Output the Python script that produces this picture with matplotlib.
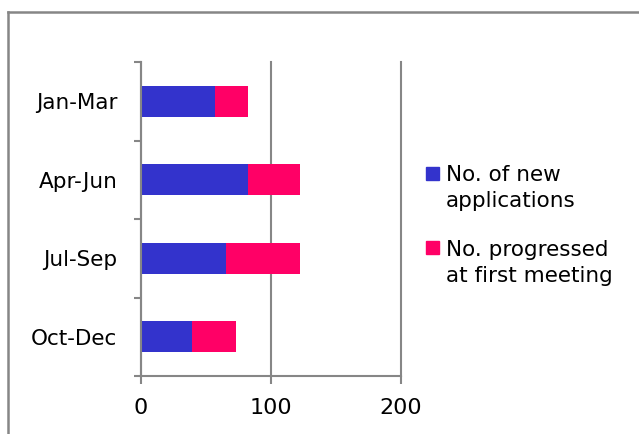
import matplotlib
matplotlib.use('Agg')
import matplotlib.pyplot as plt
from matplotlib.patches import Rectangle
from matplotlib.lines import Line2D
from matplotlib.ticker import FixedLocator

plt.rcParams['font.family'] = ['DejaVu Sans']

quarters = ["Jan-Mar", "Apr-Jun", "Jul-Sep", "Oct-Dec"]
new_apps = [57, 82, 65, 39]
progressed = [25, 40, 57, 34]
series_labels = ["No. of new\napplications", "No. progressed\nat first meeting"]
x_ticks = [0, 100, 200]

blue = '#3333CC'
pink = '#FF0066'
grey = '#868686'

W, H = 639, 434
fig = plt.figure(figsize=(W / 100, H / 100), dpi=100)

# outer chart frame (cut off at right and bottom like the original)
fig.add_artist(Line2D([8 / W, 8 / W], [-0.1, (H - 12) / H], color=grey, lw=1.8))
fig.add_artist(Line2D([8 / W, 1.1], [(H - 12) / H, (H - 12) / H], color=grey, lw=1.8))

ax = fig.add_axes([141 / W, 58 / H, 260 / W, 314 / H])
ypos = list(range(len(quarters)))
ax.barh(ypos, new_apps, height=0.4, color=blue, zorder=3)
ax.barh(ypos, progressed, left=new_apps, height=0.4, color=pink, zorder=3)

ax.set_xlim(0, 200)
ax.set_ylim(3.5, -0.5)
ax.set_xticks(x_ticks)
ax.set_xticklabels([str(v) for v in x_ticks])
ax.set_yticks(ypos)
ax.set_yticklabels(quarters)
ax.yaxis.set_minor_locator(FixedLocator([-0.5, 0.5, 1.5, 2.5, 3.5]))
ax.tick_params(axis='y', which='major', length=0, pad=17, labelsize=15.5)
ax.tick_params(axis='y', which='minor', length=5, width=1.5, color=grey)
ax.tick_params(axis='x', length=6, width=1.5, color=grey, pad=10, labelsize=16)
ax.xaxis.grid(True, color=grey, lw=1.5, zorder=0)
for gl in ax.get_xgridlines():
    gl.set_clip_on(False)
for s in ['top', 'right']:
    ax.spines[s].set_visible(False)
for s in ['left', 'bottom']:
    ax.spines[s].set_color(grey)
    ax.spines[s].set_linewidth(1.5)
    ax.spines[s].set_zorder(4)

# legend drawn by hand: square lines up with the first text line
for i, (lab, col) in enumerate(zip(series_labels, [blue, pink])):
    top = 167 + 74 * i
    fig.add_artist(Rectangle((426 / W, (H - top - 13) / H), 13 / W, 13 / H,
                             transform=fig.transFigure, color=col))
    for j, line in enumerate(lab.split('\n')):
        base = 181 + 75 * i + 26 * j
        fig.text(446 / W, (H - base) / H, line, fontsize=15.5, va='baseline', ha='left')

fig.savefig('out.png', dpi=100)
